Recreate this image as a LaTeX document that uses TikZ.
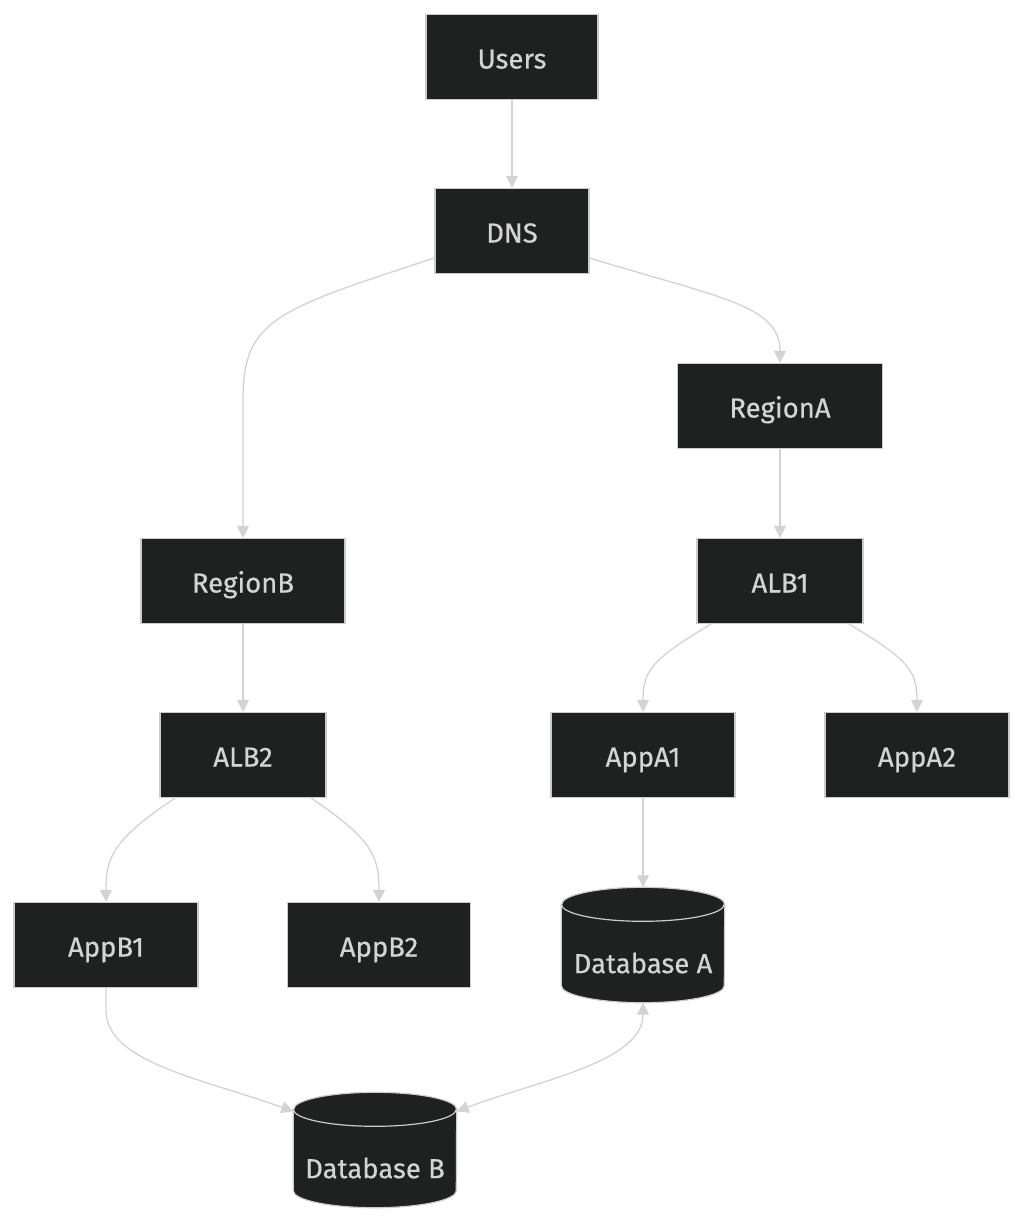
\documentclass[tikz,border=0pt]{standalone}
\usepackage{fontspec}
\setmainfont[UprightFeatures={FakeBold=0.5}]{Fira Sans}
\usetikzlibrary{arrows.meta,calc}
\definecolor{nodef}{HTML}{1F2020}
\definecolor{bordc}{HTML}{CCCCCC}
\definecolor{txtc}{HTML}{D4D4D4}
\definecolor{edgec}{HTML}{D3D3D3}
\newcommand\nodefont{\fontsize{27.5}{32}\selectfont}
\newcommand\dbcyl[1]{%
  \path[dbshape] ([yshift=-17pt]#1.north west) -- ([yshift=17pt]#1.south west)
    arc[start angle=180,end angle=360,x radius=81.5pt,y radius=17pt]
    -- ([yshift=-17pt]#1.north east)
    arc[start angle=0,end angle=180,x radius=81.5pt,y radius=17pt] -- cycle;
  \draw[dbline] ([yshift=-17pt]#1.north west)
    arc[start angle=180,end angle=360,x radius=81.5pt,y radius=17pt];}
\begin{document}
\begin{tikzpicture}[x=1pt,y=-1pt,
  box/.style={draw=bordc, line width=1.2pt, fill=nodef, text=txtc, font=\nodefont,
    minimum height=85pt, inner sep=0pt, text height=23pt, text depth=0pt},
  dbbody/.style={minimum width=163pt, minimum height=115pt, inner sep=0pt},
  dbshape/.style={draw=bordc, line width=1.2pt, fill=nodef},
  dbline/.style={draw=bordc, line width=1.2pt},
  dbtext/.style={text=txtc, font=\nodefont, inner sep=0pt},
  conn/.style={draw=edgec, line width=1.3pt, -{Triangle[length=12pt,width=12pt]}},
  conn2/.style={draw=edgec, line width=1.3pt, {Triangle[length=12pt,width=12pt]}-{Triangle[length=12pt,width=12pt]}}]
\path[use as bounding box, fill=white] (0,0) rectangle (1024,1223);

\node[box, minimum width=172pt] (users) at (512,57) {Users};
\node[box, minimum width=154pt] (dns) at (512,231) {DNS};
\node[box, minimum width=205pt] (regiona) at (780,406) {RegionA};
\node[box, minimum width=204pt] (regionb) at (243,581) {RegionB};
\node[box, minimum width=166pt] (alb1) at (780,581) {ALB1};
\node[box, minimum width=166pt] (alb2) at (243,755) {ALB2};
\node[box, minimum width=184pt] (appa1) at (643,755) {AppA1};
\node[box, minimum width=184pt] (appa2) at (917,755) {AppA2};
\node[box, minimum width=184pt] (appb1) at (106,945) {AppB1};
\node[box, minimum width=183pt] (appb2) at (379,945) {AppB2};

\node[dbbody] (dba) at (643,945) {};
\node[dbbody] (dbb) at (375,1150) {};
\dbcyl{dba}
\dbcyl{dbb}
\node[dbtext] (dbalabel) at (643,963) {Database A};
\node[dbtext] (dbblabel) at (375,1168) {Database B};

\coordinate (dbbl) at ([yshift=-19pt]dbb.north west);
\coordinate (dbbr) at ([yshift=-19pt]dbb.north east);

\draw[conn] (users) -- (dns);
\draw[conn] ([yshift=-27pt]dns.west) .. controls (275,310) and (243,320) .. (243,400) -- (regionb.north);
\draw[conn] ([yshift=-27pt]dns.east) .. controls (720,298) and (780,305) .. (regiona.north);
\draw[conn] (regiona) -- (alb1);
\draw[conn] (regionb) -- (alb2);
\draw[conn] ([xshift=-69pt]alb1.south) .. controls (650,660) and (643,672) .. (appa1.north);
\draw[conn] ([xshift=69pt]alb1.south) .. controls (910,660) and (917,672) .. (appa2.north);
\draw[conn] ([xshift=-68pt]alb2.south) .. controls (112,840) and (106,858) .. (appb1.north);
\draw[conn] ([xshift=68pt]alb2.south) .. controls (374,840) and (379,858) .. (appb2.north);
\draw[conn] (appa1) -- (dba.north);
\draw[conn] (appb1.south) -- (106,1010) .. controls (106,1062) and (200,1078) .. (dbbl);
\draw[conn2] (dba.south) .. controls (643,1062) and (540,1080) .. (dbbr);
\end{tikzpicture}
\end{document}
